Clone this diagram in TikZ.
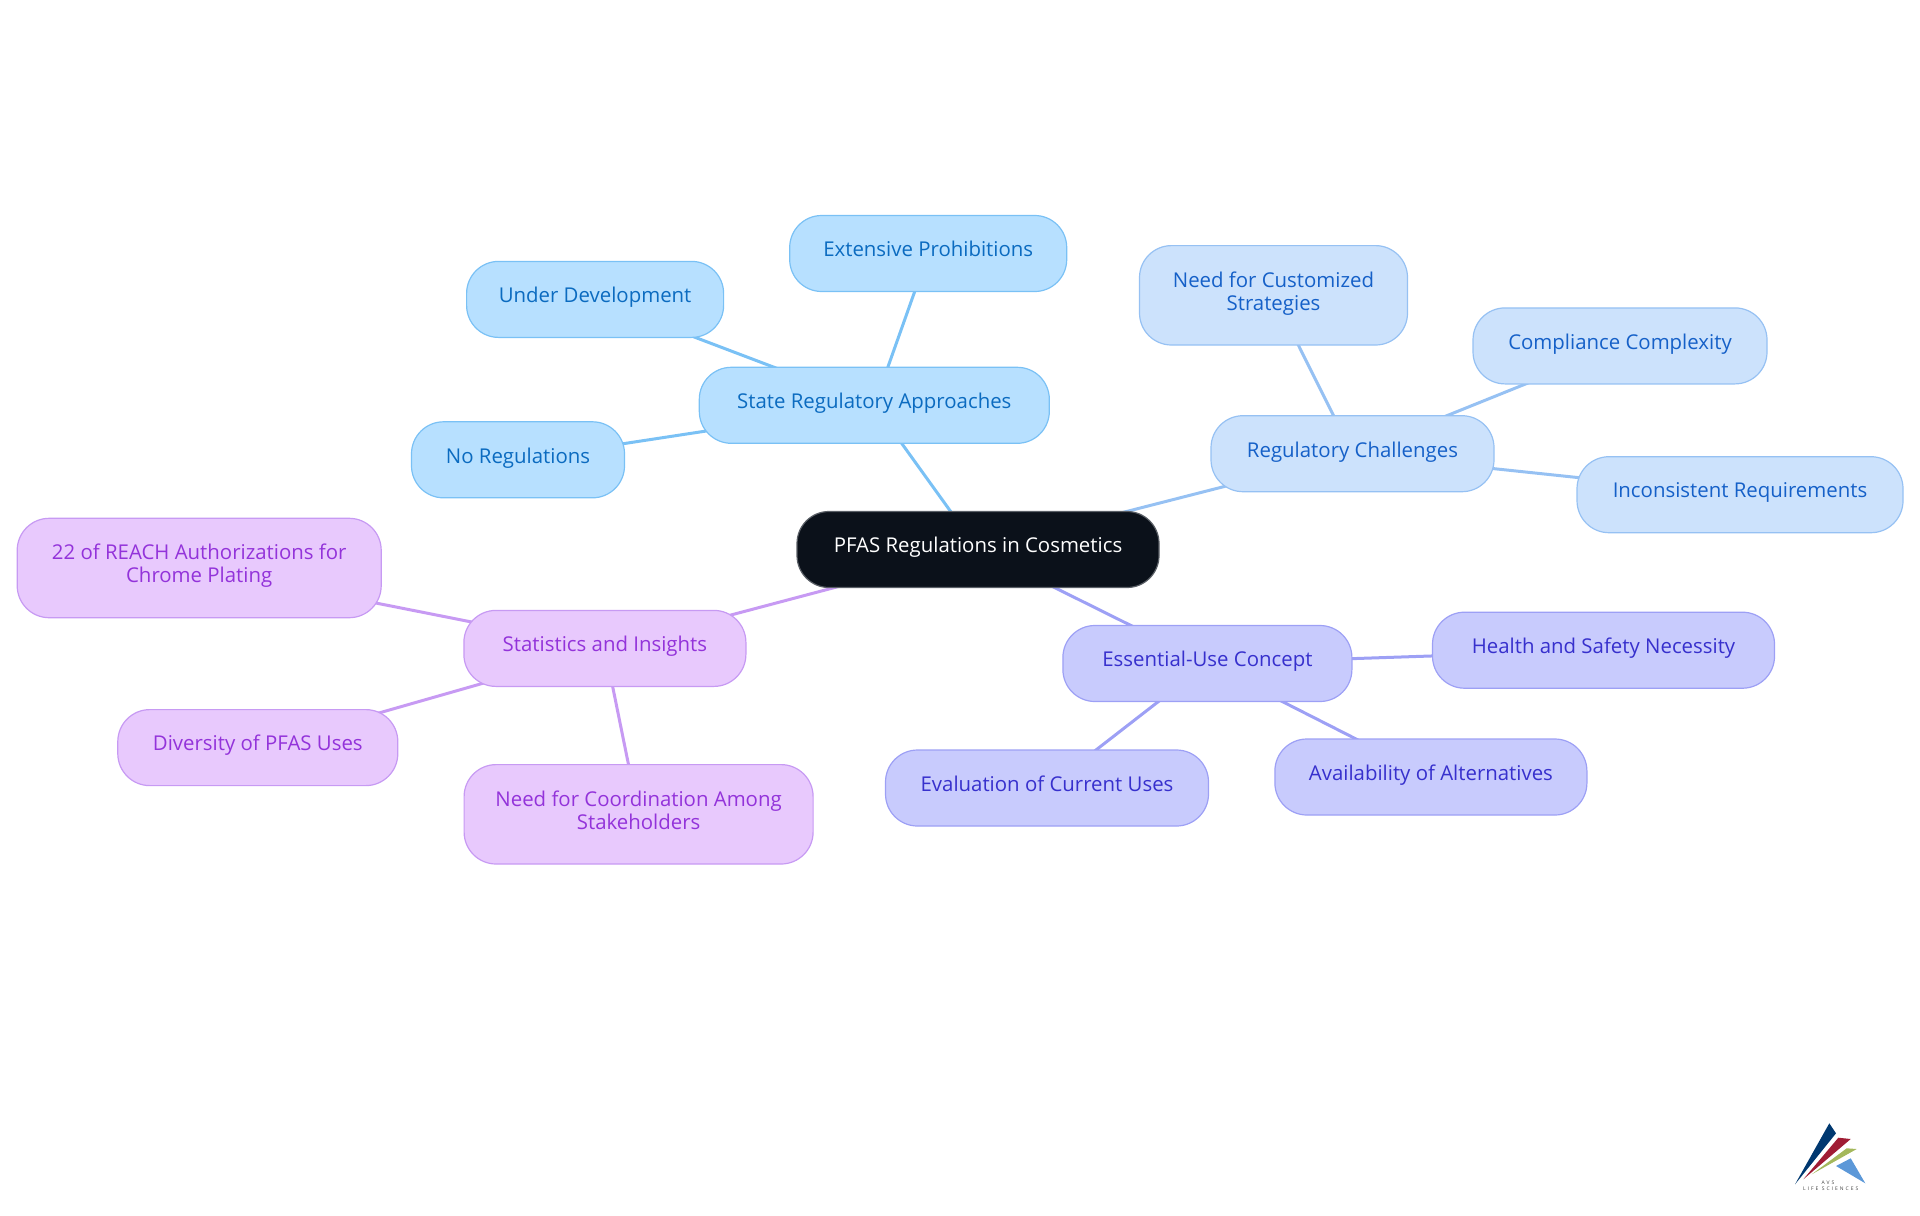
\documentclass[tikz,border=0pt]{standalone}
\usepackage{fontspec}
\setmainfont{Open Sans}
\usetikzlibrary{positioning}
\usetikzlibrary{backgrounds}
\definecolor{rootfill}{HTML}{0B111A}
\definecolor{rootline}{HTML}{5A5F66}
\definecolor{skyfill}{HTML}{B7E0FF}
\definecolor{skyline}{HTML}{7AC1F5}
\definecolor{skytext}{HTML}{0B6BC0}
\definecolor{bluefill}{HTML}{CCE2FC}
\definecolor{blueline}{HTML}{96C1F3}
\definecolor{bluetext}{HTML}{1560C8}
\definecolor{indigofill}{HTML}{C8CBFD}
\definecolor{indigoline}{HTML}{9DA0F5}
\definecolor{indigotext}{HTML}{3730CD}
\definecolor{purplefill}{HTML}{E8C9FD}
\definecolor{purpleline}{HTML}{C79AF3}
\definecolor{purpletext}{HTML}{9333DA}
\newcommand{\pillstrut}{\rule[-4.45pt]{0pt}{7.05pt}}
\tikzset{
	pill/.style={rounded corners=16pt, line width=0.6pt, align=center, inner sep=0pt,
		font=\fontsize{10.2}{11.5}\selectfont, execute at begin node=\pillstrut},
	rootpill/.style={pill, fill=rootfill, draw=rootline, text=white},
	skypill/.style={pill, fill=skyfill, draw=skyline, text=skytext},
	bluepill/.style={pill, fill=bluefill, draw=blueline, text=bluetext},
	indigopill/.style={pill, fill=indigofill, draw=indigoline, text=indigotext},
	purplepill/.style={pill, fill=purplefill, draw=purpleline, text=purpletext},
	single/.style={minimum height=38pt},
	double/.style={minimum height=49.7pt},
	branch/.style={line width=1.5pt},
	logotext/.style={font=\fontsize{2.5}{3}\selectfont\addfontfeature{LetterSpace=40}, text=black!75, inner sep=0pt}
}

\begin{document}
\begin{tikzpicture}[x=0.5pt,y=-0.5pt]
	\useasboundingbox (0,0) rectangle (1920,1215);
	
	% draw root
	\node[rootpill, single, minimum width=181pt] (root) at (978,549.5) {PFAS Regulations in Cosmetics};
	
	% draw state approaches
	\node[skypill, single, minimum width=175pt] (state) at (874.3,405.3) {State Regulatory Approaches};
	\node[skypill, single, minimum width=138.5pt] (prohibitions) at (928.2,253.5) {Extensive Prohibitions};
	\node[skypill, single, minimum width=128.5pt] (underdev) at (595.1,299.4) {Under Development};
	\node[skypill, single, minimum width=106.5pt] (noreg) at (518,459.8) {No Regulations};
	
	% draw challenges
	\node[bluepill, single, minimum width=141.5pt] (challenges) at (1352.5,453.7) {Regulatory Challenges};
	\node[bluepill, double, minimum width=134pt] (customized) at (1273.5,295.3) {Need for Customized\\Strategies\pillstrut};
	\node[bluepill, single, minimum width=147pt] (complexity) at (1620,345.9) {Compliance Complexity};
	\node[bluepill, single, minimum width=163pt] (inconsistent) at (1740,494.7) {Inconsistent Requirements};
	
	% draw essential use
	\node[indigopill, single, minimum width=144.5pt] (essential) at (1207.4,663.5) {Essential-Use Concept};
	\node[indigopill, single, minimum width=171pt] (health) at (1603.5,650.2) {Health and Safety Necessity};
	\node[indigopill, single, minimum width=156pt] (alternatives) at (1430.9,777) {Availability of Alternatives};
	\node[indigopill, single, minimum width=161.5pt] (evaluation) at (1047,788) {Evaluation of Current Uses};
	
	% draw statistics
	\node[purplepill, single, minimum width=141pt] (stats) at (604.9,648.4) {Statistics and Insights};
	\node[purplepill, double, minimum width=182pt] (reach) at (199.2,568) {22 of REACH Authorizations for\\Chrome Plating\pillstrut};
	\node[purplepill, single, minimum width=140pt] (diversity) at (257.8,747.6) {Diversity of PFAS Uses};
	\node[purplepill, double, minimum width=174.5pt] (coordination) at (638.6,814.3) {Need for Coordination Among\\Stakeholders\pillstrut};
	
	% draw branches behind the nodes
	\begin{scope}[on background layer]
		\foreach \from/\to/\col in {root/state/skyline, state/prohibitions/skyline, state/underdev/skyline, state/noreg/skyline,
			root/challenges/blueline, challenges/customized/blueline, challenges/complexity/blueline, challenges/inconsistent/blueline,
			root/essential/indigoline, essential/health/indigoline, essential/alternatives/indigoline, essential/evaluation/indigoline,
			root/stats/purpleline, stats/reach/purpleline, stats/diversity/purpleline, stats/coordination/purpleline}
			\draw[branch, \col] (\from.center) -- (\to.center);
	\end{scope}
	
	% draw logo
	\fill[fill={rgb,255:red,0;green,56;blue,112}] (1795,1184.3) -- (1829.3,1123.3) -- (1836,1133.3) -- cycle;
	\fill[fill={rgb,255:red,160;green,28;blue,52}] (1803.3,1179.3) -- (1838.3,1137.7) -- (1850.7,1139) -- cycle;
	\fill[fill={rgb,255:red,164;green,184;blue,92}] (1811.7,1174.3) -- (1846.7,1148.3) -- (1856.7,1149) -- cycle;
	\fill[fill={rgb,255:red,92;green,152;blue,216}] (1836,1166) -- (1850.7,1158.3) -- (1865.3,1183.3) -- cycle;
	\node[logotext] (logoavs) at (1828,1182.7) {AVS};
	\node[logotext] (logolife) at (1830.7,1189) {LIFE SCIENCES};
\end{tikzpicture}
\end{document}
